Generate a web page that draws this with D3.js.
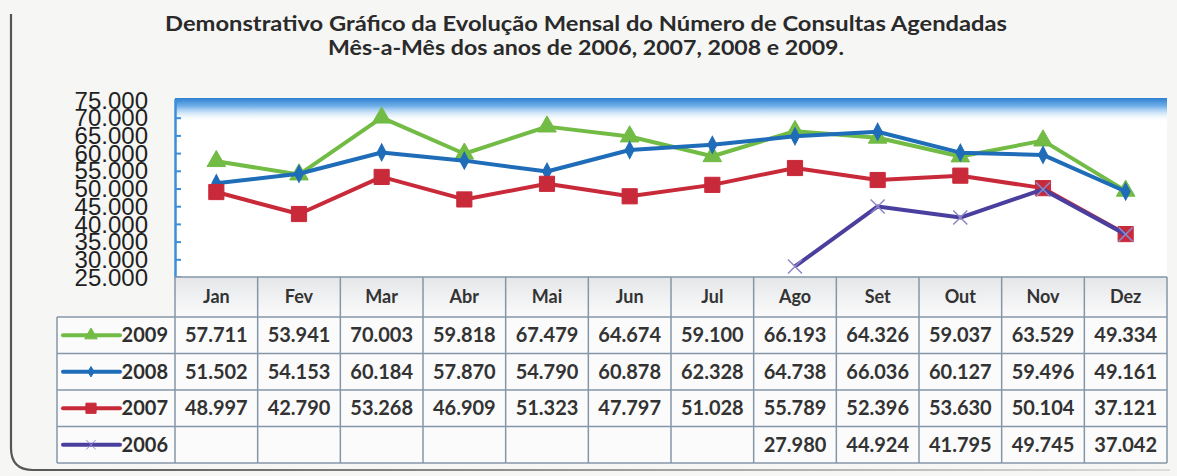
<!DOCTYPE html>
<html>
<head>
<meta charset="utf-8">
<script src="https://d3js.org/d3.v7.min.js"></script>
<style>
  body { margin: 0; background: #f6f6f5; }
  svg { display: block; }
</style>
</head>
<body>
<script>
// chart data
const months = ["Jan", "Fev", "Mar", "Abr", "Mai", "Jun", "Jul", "Ago", "Set", "Out", "Nov", "Dez"];
const years = ["2009", "2008", "2007", "2006"];
const v2009 = [57711, 53941, 70003, 59818, 67479, 64674, 59100, 66193, 64326, 59037, 63529, 49334];
const v2008 = [51502, 54153, 60184, 57870, 54790, 60878, 62328, 64738, 66036, 60127, 59496, 49161];
const v2007 = [48997, 42790, 53268, 46909, 51323, 47797, 51028, 55789, 52396, 53630, 50104, 37121];
const v2006 = [null, null, null, null, null, null, null, 27980, 44924, 41795, 49745, 37042];
const yTicks = [25000, 30000, 35000, 40000, 45000, 50000, 55000, 60000, 65000, 70000, 75000];
const titleLines = [
  "Demonstrativo Gráfico da Evolução Mensal do Número de Consultas Agendadas",
  "Mês-a-Mês dos anos de 2006, 2007, 2008 e 2009."
];

const series = [
  { name: "2009", values: v2009, color: "#72bb45", symbol: d3.symbolTriangle, size: 150 },
  { name: "2008", values: v2008, color: "#1f6cb8", symbol: d3.symbolDiamond, size: 70 },
  { name: "2007", values: v2007, color: "#c92a3a", symbol: d3.symbolSquare, size: 230 },
  { name: "2006", values: v2006, color: "#4a3f9e", symbol: d3.symbolTimes, size: 130 }
];

const width = 1177, height = 476;
const plotLeft = 175, plotRight = 1167, plotTop = 100, plotBottom = 277;
const legendLeft = 57;
const headerBottom = 317, tableBottom = 463;

const svg = d3.select("body").append("svg")
  .attr("width", width)
  .attr("height", height);

const defs = svg.append("defs");
const band = defs.append("linearGradient").attr("id", "band")
  .attr("x1", 0).attr("y1", 0).attr("x2", 0).attr("y2", 1);
band.append("stop").attr("offset", "0").attr("stop-color", "#2f7fd0");
band.append("stop").attr("offset", "0.35").attr("stop-color", "#74b2ea");
band.append("stop").attr("offset", "1").attr("stop-color", "#ffffff").attr("stop-opacity", 0);

const frameGrad = defs.append("linearGradient").attr("id", "frame")
  .attr("x1", 0).attr("y1", 0).attr("x2", 1).attr("y2", 0);
frameGrad.append("stop").attr("offset", "0").attr("stop-color", "#555");
frameGrad.append("stop").attr("offset", "0.5").attr("stop-color", "#999");
frameGrad.append("stop").attr("offset", "1").attr("stop-color", "#ddd");

const headGrad = defs.append("linearGradient").attr("id", "head")
  .attr("x1", 0).attr("y1", 0).attr("x2", 0).attr("y2", 1);
headGrad.append("stop").attr("offset", "0").attr("stop-color", "#e4e6e8");
headGrad.append("stop").attr("offset", "1").attr("stop-color", "#fbfbfb");

// page frame (rounded at bottom left)
svg.append("path")
  .attr("d", "M11,14 L11,448 Q11,470 33,470 L1170,470")
  .attr("fill", "none")
  .attr("stroke", "url(#frame)")
  .attr("stroke-width", 2.2);

// title
svg.append("g").selectAll("text")
  .data(titleLines)
  .join("text")
    .attr("x", 586)
    .attr("y", (d, i) => 31 + i * 24)
    .attr("text-anchor", "middle")
    .attr("font-family", "Lato, sans-serif")
    .attr("font-weight", "bold")
    .attr("font-size", 21)
    .attr("fill", "#2a2a2a")
    .attr("textLength", (d, i) => i === 0 ? 842 : 516)
    .attr("lengthAdjust", "spacingAndGlyphs")
    .text(d => d);

// scales
const x = d3.scaleBand().domain(months).range([plotLeft, plotRight]);
const y = d3.scaleLinear().domain([25000, 75000]).range([plotBottom, plotTop]);

// plot area
svg.append("rect")
  .attr("x", plotLeft).attr("y", plotTop)
  .attr("width", plotRight - plotLeft).attr("height", plotBottom - plotTop)
  .attr("fill", "#ffffff");
svg.append("rect")
  .attr("x", plotLeft).attr("y", plotTop - 2)
  .attr("width", plotRight - plotLeft).attr("height", 24)
  .attr("fill", "url(#band)");

// y axis
const yAxis = svg.append("g")
  .attr("transform", `translate(${plotLeft},0)`)
  .call(d3.axisRight(y).tickValues(yTicks).tickSize(6).tickFormat(""));
yAxis.select(".domain").attr("stroke", "#3d8ed6").attr("stroke-width", 2.5);
yAxis.selectAll(".tick line").attr("stroke", "#3d8ed6").attr("stroke-width", 2);

svg.append("g").selectAll("text")
  .data(yTicks)
  .join("text")
    .attr("x", 148)
    .attr("y", d => y(d))
    .attr("dy", "0.36em")
    .attr("text-anchor", "end")
    .attr("font-family", "Liberation Sans, Arial, sans-serif")
    .attr("font-size", 24)
    .attr("fill", "#1f1f1f")
    .text(d => d3.format(",")(d).replace(",", "."));

// lines and markers
const line = d3.line()
  .defined(d => d != null)
  .x((d, i) => x(months[i]) + x.bandwidth() / 2)
  .y(d => y(d));

const seriesG = svg.append("g").selectAll("g")
  .data(series)
  .join("g");

seriesG.append("path")
  .attr("d", s => line(s.values))
  .attr("fill", "none")
  .attr("stroke", s => s.color)
  .attr("stroke-width", 4)
  .attr("stroke-linejoin", "round");

seriesG.each(function(s) {
  d3.select(this).selectAll(".mark")
    .data(s.values.map((v, i) => ({ v: v, m: months[i] })).filter(d => d.v != null))
    .join("path")
      .attr("class", "mark")
      .attr("transform", d => `translate(${x(d.m) + x.bandwidth() / 2},${y(d.v)})` + (s.symbol === d3.symbolDiamond ? " scale(1,1.1)" : ""))
      .attr("d", d3.symbol(s.symbol, s.size))
      .attr("fill", s.symbol === d3.symbolTimes ? "none" : s.color)
      .attr("stroke", s.symbol === d3.symbolTimes ? "#8e86c8" : s.color)
      .attr("stroke-width", s.symbol === d3.symbolTimes ? 1.5 : 1);
});

// data table
const rowY = d3.scaleBand().domain(years).range([headerBottom, tableBottom]);
const table = svg.append("g");
const gridColor = "#8496a8";

table.append("rect")
  .attr("x", plotLeft).attr("y", plotBottom)
  .attr("width", plotRight - plotLeft).attr("height", tableBottom - plotBottom)
  .attr("fill", "#fbfbfb");
table.append("rect")
  .attr("x", plotLeft).attr("y", plotBottom)
  .attr("width", plotRight - plotLeft).attr("height", headerBottom - plotBottom)
  .attr("fill", "url(#head)");
table.append("rect")
  .attr("x", legendLeft).attr("y", headerBottom)
  .attr("width", plotLeft - legendLeft).attr("height", tableBottom - headerBottom)
  .attr("fill", "#fbfbfb");

// horizontal grid
table.selectAll(".hline")
  .data([plotBottom, headerBottom].concat(years.map(d => rowY(d) + rowY.bandwidth())))
  .join("line")
    .attr("x1", (d, i) => i === 0 ? plotLeft : legendLeft)
    .attr("x2", plotRight)
    .attr("y1", d => d).attr("y2", d => d)
    .attr("stroke", gridColor).attr("stroke-width", 1.5);

// vertical grid
table.selectAll(".vline")
  .data(months.map(m => x(m)).concat([plotRight]))
  .join("line")
    .attr("x1", d => d).attr("x2", d => d)
    .attr("y1", plotBottom).attr("y2", tableBottom)
    .attr("stroke", gridColor).attr("stroke-width", 1.5);
table.append("line")
  .attr("x1", legendLeft).attr("x2", legendLeft)
  .attr("y1", headerBottom).attr("y2", tableBottom)
  .attr("stroke", gridColor).attr("stroke-width", 1.5);

const cellFont = "Lato, sans-serif";

// month headers
table.selectAll(".month")
  .data(months)
  .join("text")
    .attr("x", d => x(d) + x.bandwidth() / 2)
    .attr("y", (plotBottom + headerBottom) / 2)
    .attr("dy", "0.36em")
    .attr("text-anchor", "middle")
    .attr("font-family", cellFont)
    .attr("font-weight", "bold")
    .attr("font-size", 18)
    .attr("fill", "#333")
    .text(d => d);

// legend keys
const keys = table.selectAll(".key")
  .data(series)
  .join("g")
    .attr("transform", s => `translate(0,${rowY(s.name) + rowY.bandwidth() / 2})`);
keys.append("line")
  .attr("x1", 63).attr("x2", 120)
  .attr("stroke", s => s.color).attr("stroke-width", 4).attr("stroke-linecap", "round");
keys.append("path")
  .attr("transform", "translate(91,0)")
  .attr("d", s => d3.symbol(s.symbol, s.size * 0.45)())
  .attr("fill", s => s.symbol === d3.symbolTimes ? "none" : s.color)
  .attr("stroke", s => s.symbol === d3.symbolTimes ? "#8e86c8" : s.color);
keys.append("text")
  .attr("x", 168)
  .attr("dy", "0.36em")
  .attr("text-anchor", "end")
  .attr("font-family", cellFont)
  .attr("font-weight", "bold")
  .attr("font-size", 20)
  .attr("fill", "#2e2e2e")
  .text(s => s.name);

// values
series.forEach(s => {
  table.append("g").selectAll("text")
    .data(s.values.map((v, i) => ({ v: v, m: months[i] })).filter(d => d.v != null))
    .join("text")
      .attr("x", d => x(d.m) + x.bandwidth() / 2)
      .attr("y", rowY(s.name) + rowY.bandwidth() / 2)
      .attr("dy", "0.36em")
      .attr("text-anchor", "middle")
      .attr("font-family", cellFont)
      .attr("font-weight", "bold")
      .attr("font-size", 20)
      .attr("fill", "#333")
      .text(d => d3.format(",")(d.v).replace(",", "."));
});
</script>
</body>
</html>
